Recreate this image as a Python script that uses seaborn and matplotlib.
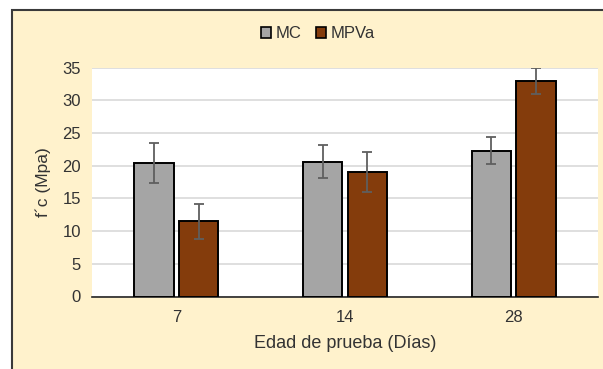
import numpy as np
import pandas as pd
import matplotlib
matplotlib.use("Agg")
import matplotlib.pyplot as plt
from matplotlib.patches import Rectangle
import seaborn as sns

# datos
edades = ["7", "14", "28"]
mc = [20.4, 20.6, 22.3]
mpva = [11.5, 19.05, 32.9]
mc_err = [3.0, 2.55, 2.1]
mpva_err = [2.65, 3.05, 2.0]
series = ["MC", "MPVa"]
colores = ["#A5A5A5", "#843C0C"]

df = pd.DataFrame({
    "edad": edades * 2,
    "fc": mc + mpva,
    "serie": ["MC"] * 3 + ["MPVa"] * 3,
})

sns.set_style("white")
plt.rcParams["font.family"] = ["Liberation Sans", "DejaVu Sans"]

fig = plt.figure(figsize=(6.03, 3.69), dpi=100, facecolor="white")
# fondo beige con marco
fig.patches.append(Rectangle((12 / 603, -0.05), 1.1, 1 - 10 / 369 + 0.05,
                             transform=fig.transFigure, facecolor="#FFF2CC",
                             edgecolor="#3A3A3A", linewidth=1.5, zorder=-5))

ax = fig.add_axes([92 / 603, 1 - 296.5 / 369, 506 / 603, (296.5 - 67.5) / 369])
ax.set_facecolor("white")

sns.barplot(data=df, x="edad", y="fc", hue="serie", order=edades, hue_order=series,
            palette=colores, saturation=1, width=0.53, gap=0.12, edgecolor="black",
            linewidth=1.4, errorbar=None, ax=ax, zorder=3)

# barras de error a partir de las barras dibujadas
errores = mc_err + mpva_err
valores = mc + mpva
for p, v, e in zip(ax.patches[:6], valores, errores):
    xc = p.get_x() + p.get_width() / 2
    ax.errorbar(xc, v, yerr=e, color="#5F5F5F", capsize=3.5, capthick=1.3,
                elinewidth=1.3, zorder=4)

ax.set_ylim(0, 35)
ax.set_xlim(-0.5, 2.5)
ax.set_yticks(range(0, 36, 5))
ax.yaxis.grid(True, color="#D9D9D9", linewidth=1.2, zorder=0)
ax.set_axisbelow(True)
for s in ["left", "right", "top"]:
    ax.spines[s].set_visible(False)
ax.spines["bottom"].set_color("#262626")
ax.spines["bottom"].set_linewidth(1.2)
ax.tick_params(axis="both", length=0, labelsize=12, colors="#333333")
ax.tick_params(axis="x", pad=10)
ax.tick_params(axis="y", pad=8)

ax.set_xlabel("Edad de prueba (Días)", fontsize=13, color="#333333", labelpad=7)
ax.set_ylabel("f´c (Mpa)", fontsize=12.5, color="#333333", labelpad=8)

ax.legend_.remove()
handles = [Rectangle((0, 0), 1, 1, facecolor=c, edgecolor="black", linewidth=1.2) for c in colores]
fig.legend(handles, series, loc="center", bbox_to_anchor=(318 / 603, 1 - 34 / 369),
           ncol=2, frameon=False, fontsize=12, handlelength=0.6, handleheight=0.6,
           handletextpad=0.25, columnspacing=0.9, labelcolor="#333333")

fig.savefig("out.png", dpi=100, facecolor=fig.get_facecolor())
